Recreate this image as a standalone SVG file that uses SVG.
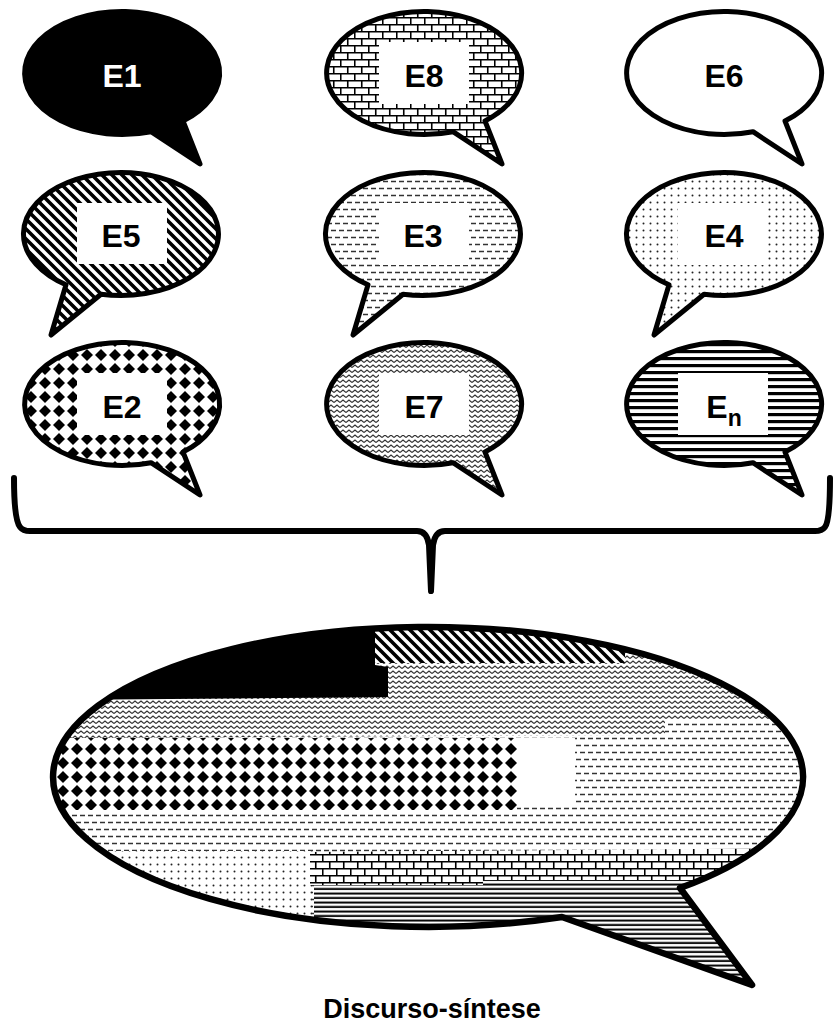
<svg xmlns="http://www.w3.org/2000/svg" width="833" height="1030" viewBox="0 0 833 1030">
<defs>
<style>
.b{stroke:#000;stroke-width:5;stroke-linejoin:round}
.lbl{font-family:"Liberation Sans",Arial,sans-serif;font-weight:bold;font-size:32px;text-anchor:middle;fill:#000}
.w{fill:#fff}
.box{fill:#fff}
</style>
<pattern id="pBrick" width="14" height="14" patternUnits="userSpaceOnUse">
<rect width="14" height="14" fill="#fff"/>
<path d="M0,0.75H14M0,7.75H14M0.75,0V7.5M7.75,7.5V14" stroke="#000" stroke-width="1.6" fill="none"/>
</pattern>
<pattern id="pDiag" width="10" height="10" patternUnits="userSpaceOnUse">
<rect width="10" height="10" fill="#fff"/>
<path d="M0,0L10,10M-2,8L2,12M8,-2L12,2" stroke="#000" stroke-width="3.6" fill="none"/>
</pattern>
<pattern id="pDash" width="8" height="14" patternUnits="userSpaceOnUse">
<rect width="8" height="14" fill="#fff"/>
<path d="M0,3.5H5M4,10.5H8M0,10.5H1" stroke="#333" stroke-width="1.7" fill="none"/>
</pattern>
<pattern id="pDot" width="7" height="7" patternUnits="userSpaceOnUse">
<rect width="7" height="7" fill="#fff"/>
<circle cx="3.5" cy="3.5" r="1" fill="#222"/>
</pattern>
<pattern id="pDiamond" width="14" height="14" patternUnits="userSpaceOnUse">
<rect width="14" height="14" fill="#fff"/>
<polygon points="7,1 13,7 7,13 1,7" fill="#000"/>
</pattern>
<pattern id="pZig" width="6" height="5" patternUnits="userSpaceOnUse">
<rect width="6" height="5" fill="#fff"/>
<path d="M0,3.5L3,1L6,3.5" stroke="#333" stroke-width="1.2" fill="none"/>
</pattern>
<pattern id="pHline" width="8" height="7" patternUnits="userSpaceOnUse">
<rect width="8" height="7" fill="#fff"/>
<rect y="2" width="8" height="3.2" fill="#000"/>
</pattern>
<pattern id="pHline2" width="8" height="4.5" patternUnits="userSpaceOnUse">
<rect width="8" height="4.5" fill="#fff"/>
<rect y="1.5" width="8" height="2" fill="#000"/>
</pattern>
<clipPath id="bigClip"><path d="M562,917 A375 150 0 1 1 680,888 L752,985 Z"/></clipPath>
</defs>
<rect width="833" height="1030" fill="#fff"/>

<g id="E1" transform="translate(122,73)">
<path class="b" fill="#000" d="M29,58.7 A97.5 61.5 0 1 1 61,48 L78,91 Z"/>
<text class="lbl w" y="14">E1</text>
</g>
<g id="E8" transform="translate(424,73)">
<path class="b" fill="url(#pBrick)" d="M29,58.7 A97.5 61.5 0 1 1 61,48 L78,91 Z"/>
<rect class="box" x="-45" y="-31" width="90" height="62"/>
<text class="lbl" y="14">E8</text>
</g>
<g id="E6" transform="translate(724,73)">
<path class="b" fill="#fff" d="M29,58.7 A97.5 61.5 0 1 1 61,48 L78,91 Z"/>
<text class="lbl" y="14">E6</text>
</g>

<g id="E5" transform="translate(121,234)">
<path class="b" fill="url(#pDiag)" d="M-55,50.8 A97.5 61.5 0 1 1 -20,60.2 L-70,101 Z"/>
<rect class="box" x="-44" y="-31" width="90" height="61"/>
<text class="lbl" y="13">E5</text>
</g>
<g id="E3" transform="translate(423,234)">
<path class="b" fill="url(#pDash)" d="M-55,50.8 A97.5 61.5 0 1 1 -20,60.2 L-70,101 Z"/>
<rect class="box" x="-44" y="-31" width="90" height="62"/>
<text class="lbl" y="13">E3</text>
</g>
<g id="E4" transform="translate(724,234)">
<path class="b" fill="url(#pDot)" d="M-55,50.8 A97.5 61.5 0 1 1 -20,60.2 L-70,101 Z"/>
<rect class="box" x="-46" y="-31" width="90" height="62"/>
<text class="lbl" y="13">E4</text>
</g>

<g id="E2" transform="translate(122,404)">
<path class="b" fill="url(#pDiamond)" d="M29,58.7 A97.5 61.5 0 1 1 61,48 L78,91 Z"/>
<rect class="box" x="-45" y="-31" width="90" height="62"/>
<text class="lbl" y="14">E2</text>
</g>
<g id="E7" transform="translate(424,404)">
<path class="b" fill="url(#pZig)" d="M29,58.7 A97.5 61.5 0 1 1 61,48 L78,91 Z"/>
<rect class="box" x="-45" y="-31" width="90" height="62"/>
<text class="lbl" y="14">E7</text>
</g>
<g id="En" transform="translate(724,404)">
<path class="b" fill="url(#pHline)" d="M29,58.7 A97.5 61.5 0 1 1 61,48 L78,91 Z"/>
<rect class="box" x="-46" y="-31" width="90" height="62"/>
<text class="lbl" y="14">E<tspan font-size="23" dy="8">n</tspan></text>
</g>

<g id="connectors">
<path d="M14,478 C14,505 16,522 20,527 Q23,531 30,531 L417,531 Q427,531 429,545 L431,591 L433,545 Q435,531 445,531 L815,531 Q822,531 825,527 C829,522 830,505 830,478" fill="none" stroke="#000" stroke-width="6" stroke-linecap="round" stroke-linejoin="round"/>
</g>

<g id="synthesis">
<g clip-path="url(#bigClip)">
<rect x="40" y="600" width="800" height="400" fill="url(#pDash)"/>
<polygon fill="url(#pZig)" points="40,600 840,600 840,720 665,720 665,735 40,738"/>
<polygon fill="#000" points="40,600 375,600 375,665 388,667 388,697 40,700"/>
<polygon fill="url(#pDiag)" points="375,600 625,600 625,663 375,663"/>
<rect x="40" y="738" width="477" height="72" fill="url(#pDiamond)"/>
<rect x="517" y="738" width="58" height="69" fill="#fff"/>
<rect x="40" y="851" width="272" height="100" fill="url(#pDot)"/>
<polygon fill="url(#pBrick)" points="310,852 840,848 840,880 483,880 483,885 310,885"/>
<polygon fill="url(#pHline2)" points="314,885 483,885 483,880 840,880 840,1000 314,1000"/>
</g>
<path d="M562,917 A375 150 0 1 1 680,888 L752,985 Z" fill="none" stroke="#000" stroke-width="6.5" stroke-linejoin="round"/>
<text x="432" y="1018" font-family="Liberation Sans, Arial, sans-serif" font-weight="bold" font-size="27" text-anchor="middle">Discurso-síntese</text>
</g>
</svg>
